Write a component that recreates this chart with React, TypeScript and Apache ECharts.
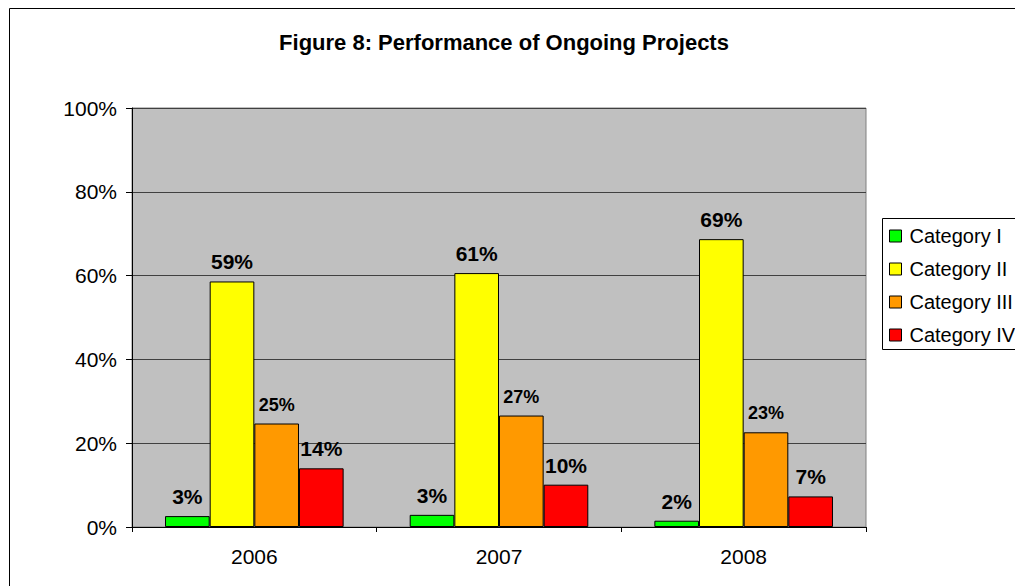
import React, { useEffect, useRef } from "react";
import * as echarts from "echarts";

const years = ["2006", "2007", "2008"];
const categoryNames = ["Category I", "Category II", "Category III", "Category IV"];
const catI = [2.6, 2.9, 1.5];
const catII = [58.6, 60.6, 68.7];
const catIII = [24.7, 26.6, 22.6];
const catIV = [14.0, 10.1, 7.3];
const seriesValues = [catI, catII, catIII, catIV];
const seriesColors = ["#00FF00", "#FFFF00", "#FF9900", "#FF0000"];
const labelSizes = [21, 21, 18, 21];
const labelDistances = [9, 9, 10, 9];
const yTicks = [0, 20, 40, 60, 80, 100];

const FONT = 'Arial, "Liberation Sans", sans-serif';

export default function App() {
  const ref = useRef<HTMLDivElement>(null);
  useEffect(() => {
    if (!ref.current) return;
    const chart = echarts.init(ref.current, undefined, { renderer: "svg" });
    chart.setOption({
      animation: false,
      backgroundColor: "#FFFFFF",
      title: {
        text: "Figure 8: Performance of Ongoing Projects",
        left: 496,
        top: 23,
        textAlign: "center",
        padding: 0,
        textStyle: { fontFamily: FONT, fontSize: 22, fontWeight: "bold", color: "#000" },
      },
      legend: {
        orient: "vertical",
        left: 881,
        top: 216,
        padding: 0,
        itemGap: 9,
        itemWidth: 12,
        itemHeight: 12,
        icon: "rect",
        itemStyle: { borderColor: "#000", borderWidth: 1 },
        textStyle: { fontFamily: FONT, fontSize: 20, color: "#000", lineHeight: 24, padding: [0, 0, 0, 3] },
        data: categoryNames,
      },
      graphic: [
        {
          type: "rect",
          shape: { x: 1.5, y: 0.5, width: 1100, height: 700 },
          style: { fill: "none", stroke: "#000", lineWidth: 1 },
          silent: true,
        },
        {
          type: "rect",
          shape: { x: 874.5, y: 210.5, width: 200, height: 131 },
          style: { fill: "none", stroke: "#000", lineWidth: 1 },
          silent: true,
        },
      ],
      grid: {
        left: 124,
        right: 157,
        top: 100,
        bottom: 59,
        show: true,
        backgroundColor: "#C0C0C0",
        borderColor: "#808080",
        borderWidth: 1,
      },
      xAxis: {
        type: "category",
        data: years,
        axisLine: { lineStyle: { color: "#000", width: 1 } },
        axisTick: { show: true, length: 5, lineStyle: { color: "#000" } },
        axisLabel: { fontFamily: FONT, fontSize: 21, color: "#000", margin: 19 },
      },
      yAxis: {
        type: "value",
        min: yTicks[0],
        max: yTicks[yTicks.length - 1],
        interval: 20,
        axisLine: { show: true, lineStyle: { color: "#000", width: 1 } },
        axisTick: { show: true, length: 6, lineStyle: { color: "#000" } },
        axisLabel: { fontFamily: FONT, fontSize: 21, color: "#000", margin: 15, formatter: "{value}%" },
        splitLine: { show: true, lineStyle: { color: "#404040", width: 1 } },
      },
      series: categoryNames.map((name, i) => ({
        name,
        type: "bar",
        data: seriesValues[i],
        barGap: "0%",
        barCategoryGap: "27%",
        itemStyle: { color: seriesColors[i], borderColor: "#000", borderWidth: 1 },
        label: {
          show: true,
          position: "top",
          distance: labelDistances[i],
          fontFamily: FONT,
          fontSize: labelSizes[i],
          fontWeight: "bold",
          color: "#000",
          formatter: (p: any) => Math.round(p.value) + "%",
        },
      })),
    });
    return () => chart.dispose();
  }, []);
  return <div ref={ref} style={{ width: 1015, height: 578 }} />;
}
